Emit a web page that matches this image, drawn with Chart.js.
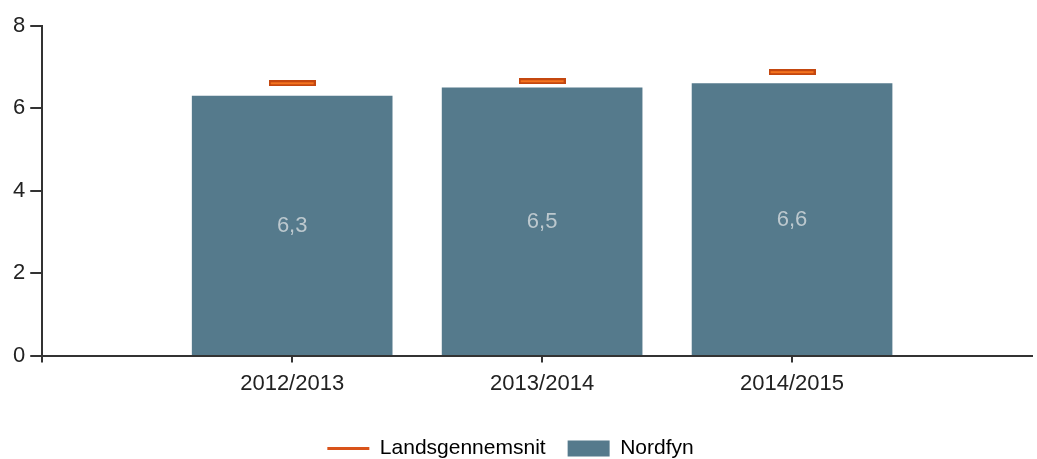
<!DOCTYPE html>
<html>
<head>
<meta charset="utf-8">
<script src="https://cdn.jsdelivr.net/npm/chart.js@4"></script>
<style>
  html, body { margin: 0; padding: 0; background: #fff; }
  #wrap { width: 1037px; height: 459px; position: relative; }
</style>
</head>
<body>
<div id="wrap"><canvas id="chart"></canvas></div>
<script>
// Nordfyn vs. Landsgennemsnit
const categories = ['2012/2013', '2013/2014', '2014/2015'];
const nordfyn = [6.3, 6.5, 6.6];
const landsgennemsnit = [6.61, 6.66, 6.88];
const yTicks = [0, 2, 4, 6, 8];

const barColor = '#557a8c';
const orange = '#d9531a';

Chart.defaults.font.family = '"Liberation Sans", Arial, sans-serif';
Chart.defaults.color = '#222';

// small orange bar used as the marker for the national average
const marker = document.createElement('canvas');
marker.width = 47;
marker.height = 6;
(function() {
    const c = marker.getContext('2d');
    c.fillStyle = '#c4470f';
    c.fillRect(0, 0, 47, 6);
    c.fillStyle = '#f47420';
    c.fillRect(2, 2, 43, 2);
})();

// value labels centered inside the bars
const barLabels = {
    id: 'barLabels',
    afterDatasetsDraw(chart) {
        const meta = chart.getDatasetMeta(0);
        const ctx = chart.ctx;
        ctx.save();
        ctx.font = '22px "Liberation Sans", Arial, sans-serif';
        ctx.fillStyle = '#bcc8ce';
        ctx.textAlign = 'center';
        ctx.textBaseline = 'middle';
        meta.data.forEach((bar, i) => {
            const txt = nordfyn[i].toFixed(1).replace('.', ',');
            ctx.fillText(txt, bar.x, (bar.y + bar.base) / 2 + 1);
        });
        ctx.restore();
    }
};

// nudge the legend to where the original sits
const legendShift = {
    id: 'legendShift',
    afterLayout(chart) {
        const lg = chart.legend;
        if (!lg) return;
        lg.top += 11; lg.bottom += 11;
        lg.left -= 12; lg.right -= 12;
    }
};

new Chart(document.getElementById('chart'), {
    data: {
        datasets: [
            {
                type: 'bar',
                label: 'Nordfyn',
                data: categories.map((c, i) => ({ x: i + 1, y: nordfyn[i] })),
                backgroundColor: barColor,
                barThickness: 200,
                order: 1
            },
            {
                type: 'line',
                label: 'Landsgennemsnit',
                data: categories.map((c, i) => ({ x: i + 1, y: landsgennemsnit[i] })),
                showLine: false,
                pointStyle: marker,
                order: 0
            }
        ]
    },
    options: {
        responsive: true,
        maintainAspectRatio: false,
        animation: false,
        layout: {
            padding: { left: 8, right: 0, top: 26, bottom: 1 }
        },
        scales: {
            x: {
                type: 'linear',
                min: 0,
                max: 3.96,
                offset: false,
                afterBuildTicks: scale => {
                    scale.ticks = [0, 1, 2, 3].map(v => ({ value: v }));
                },
                grid: {
                    offset: false,
                    drawOnChartArea: false,
                    drawTicks: true,
                    tickLength: 7,
                    color: '#333',
                    lineWidth: 2
                },
                border: { color: '#333', width: 2 },
                ticks: {
                    font: { size: 22 },
                    color: '#222',
                    padding: 8,
                    maxRotation: 0,
                    callback: v => categories[v - 1] || ''
                }
            },
            y: {
                min: 0,
                max: 8,
                afterBuildTicks: scale => {
                    scale.ticks = yTicks.map(v => ({ value: v }));
                },
                grid: {
                    drawOnChartArea: false,
                    drawTicks: true,
                    tickLength: 12,
                    color: '#333',
                    lineWidth: 2
                },
                border: { color: '#333', width: 2 },
                ticks: {
                    font: { size: 22 },
                    color: '#222',
                    padding: 5
                }
            }
        },
        plugins: {
            tooltip: { enabled: false },
            legend: {
                position: 'bottom',
                labels: {
                    font: { size: 21 },
                    color: '#222',
                    usePointStyle: true,
                    pointStyleWidth: 42,
                    boxHeight: 16,
                    padding: 22,
                    generateLabels: () => [
                        {
                            text: 'Landsgennemsnit',
                            pointStyle: 'line',
                            strokeStyle: orange,
                            fillStyle: orange,
                            lineWidth: 3,
                            datasetIndex: 1
                        },
                        {
                            text: 'Nordfyn',
                            pointStyle: 'rect',
                            strokeStyle: barColor,
                            fillStyle: barColor,
                            lineWidth: 0,
                            datasetIndex: 0
                        }
                    ]
                }
            }
        }
    },
    plugins: [barLabels, legendShift]
});
</script>
</body>
</html>
